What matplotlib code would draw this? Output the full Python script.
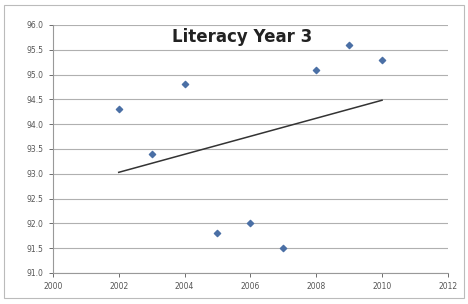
import matplotlib
matplotlib.use('Agg')
import matplotlib.pyplot as plt
import numpy as np

# data
years = [2002, 2003, 2004, 2005, 2006, 2007, 2008, 2009, 2010]
scores = [94.3, 93.4, 94.8, 91.8, 92.0, 91.5, 95.1, 95.6, 95.3]
x_ticks = [2000, 2002, 2004, 2006, 2008, 2010, 2012]
y_ticks = [91.0, 91.5, 92.0, 92.5, 93.0, 93.5, 94.0, 94.5, 95.0, 95.5, 96.0]

fig = plt.figure(figsize=(4.68, 3.04), dpi=100)
ax = fig.add_axes([0.113, 0.102, 0.844, 0.816])

# linear trendline like excel
coef = np.polyfit(years, scores, 1)
tx = np.array([years[0], years[-1]])
ax.plot(tx, np.polyval(coef, tx), color='#333333', lw=1.1, zorder=2)

ax.scatter(years, scores, marker='D', s=10, color='#4a6fa5', zorder=3)

ax.set_xlim(2000, 2012)
ax.set_ylim(91.0, 96.0)
ax.set_xticks(x_ticks)
ax.set_yticks(y_ticks)
ax.set_yticklabels(['%.1f' % v for v in y_ticks])
ax.tick_params(labelsize=5.5, colors='#555555', length=3, width=0.6)
ax.grid(axis='y', color='#b0b0b0', lw=0.8)
ax.set_axisbelow(True)
for s in ['top', 'right']:
    ax.spines[s].set_visible(False)
ax.spines['left'].set_color('#999999')
ax.spines['bottom'].set_color('#999999')

ax.text(2005.75, 95.76, 'Literacy Year 3', fontsize=12, fontweight='bold',
        ha='center', va='center', color='#222222')

# chart border
fig.patches.append(plt.Rectangle((0.008, 0.02), 0.984, 0.965, transform=fig.transFigure,
                                 fill=False, edgecolor='#bbbbbb', lw=0.8))

fig.savefig('out.png', dpi=100)
